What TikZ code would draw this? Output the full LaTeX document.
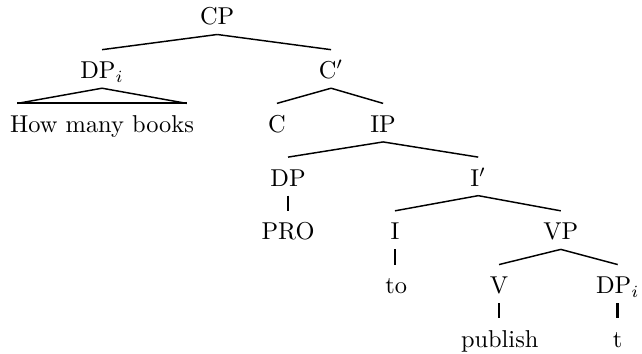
\documentclass[tikz,border=0pt]{standalone}
\begin{document}
\begin{tikzpicture}[
		cat/.style={anchor=base, inner xsep=3.33pt, inner ysep=3.7pt, text height=8pt, text depth=0pt},
		branch/.style={line width=0.6pt, black},
		stem/.style={line width=1.1pt, black}]
		\useasboundingbox (0,0) rectangle (9.25,-5.09);
		% categories, one row per level
		\node [cat] (cp) at (3.13,-0.36) {CP};
		\node [cat] (dpi) at (1.47,-1.134) {DP$_i$};
		\node [cat] (cbar) at (4.77,-1.134) {C$'$};
		\node [cat] (books) at (1.47,-1.908) {How many books};
		\node [cat] (c) at (3.99,-1.908) {C};
		\node [cat] (ip) at (5.52,-1.908) {IP};
		\node [cat] (dp) at (4.15,-2.682) {DP};
		\node [cat] (ibar) at (6.89,-2.682) {I$'$};
		\node [cat] (pro) at (4.15,-3.456) {PRO};
		\node [cat] (i) at (5.69,-3.456) {I};
		\node [cat] (vp) at (8.08,-3.456) {VP};
		\node [cat] (inf) at (5.71,-4.23) {to};
		\node [cat] (v) at (7.19,-4.23) {V};
		\node [cat] (dpt) at (8.9,-4.23) {DP$_i$};
		\node [cat] (publish) at (7.2,-5.004) {publish};
		\node [cat] (t) at (8.9,-5.004) {t};
		% branches
		\draw [branch] (cp.south)--(dpi.north);
		\draw [branch] (cp.south)--(cbar.north);
		\draw [branch] ([xshift=6.5pt]books.north west)--(dpi.south)--([xshift=-6.5pt]books.north east);
		\draw [branch, line width=0.9pt] ([xshift=6.5pt]books.north west)--([xshift=-6.5pt]books.north east);
		\draw [branch] (cbar.south)--(c.north);
		\draw [branch] (cbar.south)--(ip.north);
		\draw [branch] (ip.south)--(dp.north);
		\draw [branch] (ip.south)--(ibar.north);
		\draw [branch] (ibar.south)--(i.north);
		\draw [branch] (ibar.south)--(vp.north);
		\draw [branch] (vp.south)--(v.north);
		\draw [branch] (vp.south)--(dpt.north);
		% unary stems, kept vertical
		\draw [stem] (dp.south)--(dp.south |- pro.north);
		\draw [stem] (i.south)--(i.south |- inf.north);
		\draw [stem] (v.south)--(v.south |- publish.north);
		\draw [stem] (dpt.south)--(dpt.south |- t.north);
	  \end{tikzpicture}
\end{document}
